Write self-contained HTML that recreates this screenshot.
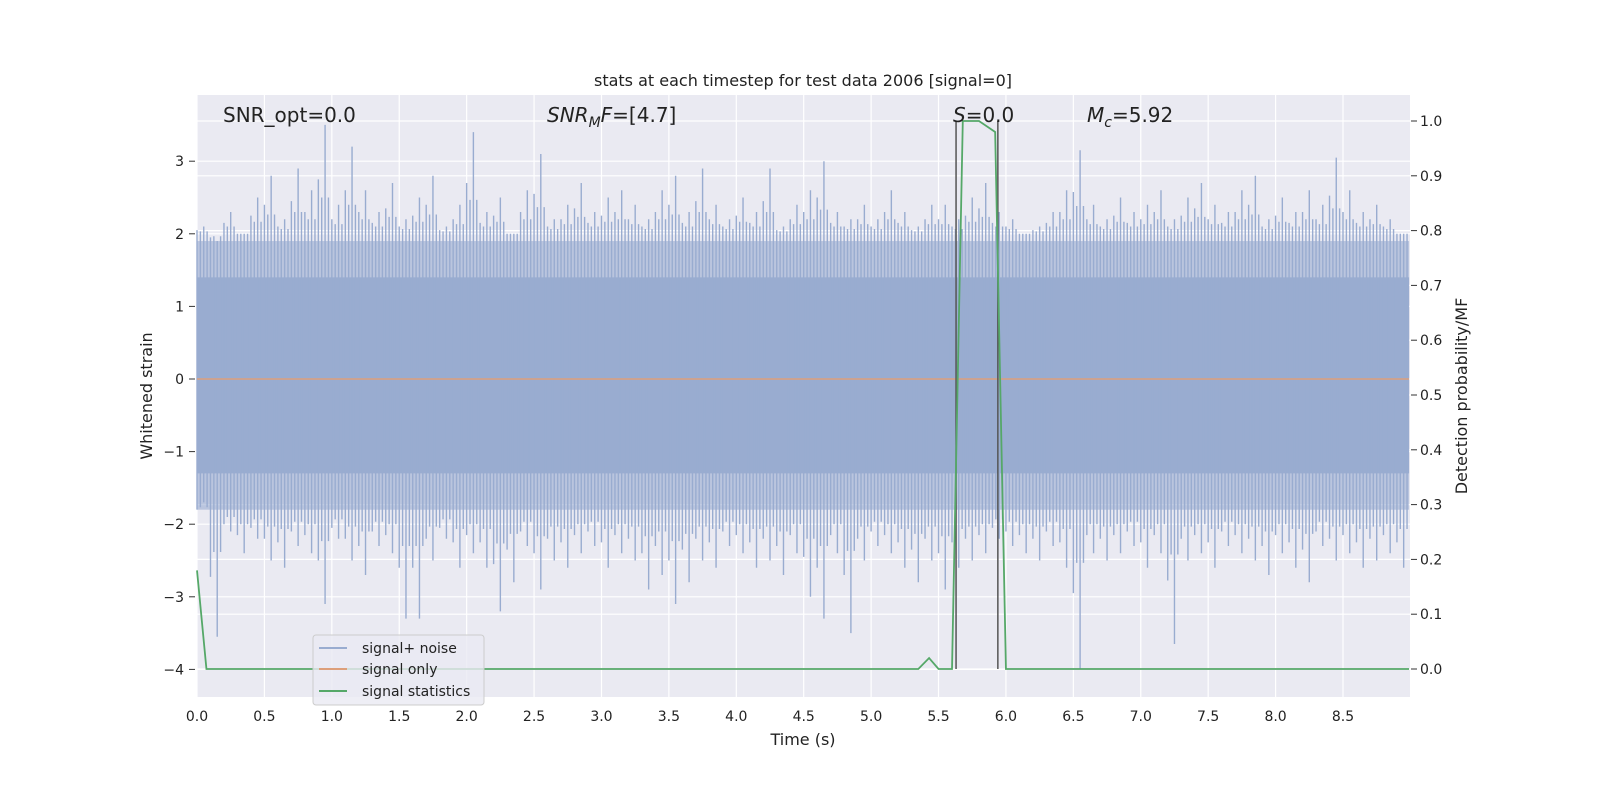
<!DOCTYPE html>
<html><head><meta charset="utf-8"><style>
html,body{margin:0;padding:0;overflow:hidden;background:#fff;font-family:"DejaVu Sans","Liberation Sans",sans-serif;}
svg{display:block;}
</style></head><body>
<svg id="chart" width="1600" height="800" xmlns="http://www.w3.org/2000/svg" font-family="DejaVu Sans, Liberation Sans, sans-serif">
<rect width="1600" height="800" fill="#fff"/>
<rect x="197" y="95" width="1213" height="602" fill="#eaeaf2"/>
<g id="grid"></g>
<g id="marks"></g>
<g id="axes"></g>
<text x="803" y="86" text-anchor="middle" font-size="16" fill="#222">stats at each timestep for test data 2006 [signal=0]</text>
<text x="803" y="745" text-anchor="middle" font-size="16" fill="#222">Time (s)</text>
<text transform="translate(152,396) rotate(-90)" text-anchor="middle" font-size="16" fill="#222">Whitened strain</text>
<text transform="translate(1467,396) rotate(-90)" text-anchor="middle" font-size="16" fill="#222">Detection probability/MF</text>
<text x="223" y="122" font-size="20" fill="#222">SNR_opt=0.0</text>
<text x="547" y="122" font-size="20" fill="#222"><tspan font-style="italic">SNR</tspan><tspan font-style="italic" font-size="14" dy="5">M</tspan><tspan font-style="italic" dy="-5">F</tspan>=[4.7]</text>
<text x="953" y="122" font-size="20" fill="#222"><tspan font-style="italic">S</tspan>=0.0</text>
<text x="1087" y="122" font-size="20" fill="#222"><tspan font-style="italic">M</tspan><tspan font-style="italic" font-size="14" dy="5">c</tspan><tspan dy="-5">=5.92</tspan></text>
<g>
<rect x="313" y="635" width="171" height="70" rx="3" fill="#eaeaf2" fill-opacity="0.8" stroke="#ccc"/>
<line x1="319" y1="648" x2="347" y2="648" stroke="#99acd0" stroke-width="2"/>
<text x="362" y="653" font-size="14" fill="#222">signal+ noise</text>
<line x1="319" y1="669" x2="347" y2="669" stroke="#dd9f7a" stroke-width="2"/>
<text x="362" y="674" font-size="14" fill="#222">signal only</text>
<line x1="319" y1="691" x2="347" y2="691" stroke="#55a868" stroke-width="2"/>
<text x="362" y="696" font-size="14" fill="#222">signal statistics</text>
</g>
</svg>
<script>
const highs=[2.1,1.9,2.3,2.0,2.5,2.8,2.2,2.9,2.6,3.5,2.4,3.2,2.6,2.3,2.7,2.2,2.5,2.8,2.1,2.4,3.4,2.3,2.5,2.0,2.6,3.1,2.2,2.4,2.7,2.3,2.5,2.6,2.4,2.2,2.6,2.8,2.3,2.9,2.4,2.2,2.5,2.3,2.9,2.1,2.4,2.6,3.0,2.3,2.2,2.4,2.2,2.6,2.3,2.1,2.4,2.4,2.2,2.5,2.7,2.3,2.2,2.0,2.1,2.3,2.6,3.15,2.4,2.2,2.5,2.3,2.4,2.6,2.2,2.5,2.7,2.4,2.3,2.6,2.8,2.2,2.5,2.3,2.6,2.4,3.05,2.6,2.3,2.4,2.2,2.0];
const lows=[-1.7,-3.55,-2.1,-2.4,-2.2,-2.5,-2.6,-2.3,-2.4,-3.1,-2.2,-2.5,-2.7,-2.3,-2.4,-3.3,-3.3,-2.5,-2.2,-2.6,-2.4,-2.6,-3.2,-2.8,-2.3,-2.9,-2.5,-2.6,-2.4,-2.3,-2.6,-2.4,-2.5,-2.9,-2.7,-3.1,-2.8,-2.5,-2.6,-2.3,-2.4,-2.6,-2.5,-2.7,-2.4,-3.0,-3.3,-2.4,-3.5,-2.5,-2.3,-2.4,-2.6,-2.8,-2.5,-2.9,-2.6,-2.5,-2.4,-2.2,-2.3,-2.4,-2.5,-2.3,-2.6,-4.0,-2.4,-2.5,-2.4,-2.3,-2.6,-2.4,-3.65,-2.5,-2.4,-2.6,-2.3,-2.4,-2.5,-2.7,-2.4,-2.6,-2.8,-2.3,-2.5,-2.4,-2.6,-2.5,-2.4,-2.6];
const statT=[0,0.07,0.15,5.35,5.43,5.5,5.6,5.68,5.8,5.92,6.0,8.99];
const statV=[0.18,0.0,0.0,0.0,0.02,0.0,0.0,1.0,1.0,0.98,0.0,0.0];
const markerT=[5.63,5.94];
const xTicks=[0,0.5,1,1.5,2,2.5,3,3.5,4,4.5,5,5.5,6,6.5,7,7.5,8,8.5];
const yTicks=[-4,-3,-2,-1,0,1,2,3];
const y2Ticks=[0,0.1,0.2,0.3,0.4,0.5,0.6,0.7,0.8,0.9,1.0];
const NS="http://www.w3.org/2000/svg";
const X=t=>197+t*(1146/8.5), Y=v=>379-v*72.6, Y2=p=>669-p*548;
function mk(tag,attrs,parent){const e=document.createElementNS(NS,tag);for(const k in attrs)e.setAttribute(k,attrs[k]);document.getElementById(parent).appendChild(e);return e;}
for(const t of xTicks){const l=mk('line',{x1:X(t),x2:X(t),y1:95,y2:697,stroke:'#fff','stroke-width':1.2},'grid');
const tx=mk('text',{x:X(t),y:721,'text-anchor':'middle','font-size':14,fill:'#222'},'axes');tx.textContent=t.toFixed(1);}
for(const v of yTicks){const l=mk('line',{x1:197,x2:1410,y1:Y(v),y2:Y(v),stroke:'#fff','stroke-width':1.2},'grid');
const tx=mk('text',{x:184,y:Y(v)+5,'text-anchor':'end','font-size':14,fill:'#222'},'axes');tx.textContent=v<0?'\u2212'+(-v):v;
const tk=mk('line',{x1:189,x2:195,y1:Y(v),y2:Y(v),stroke:'#333'},'axes');}
for(const p of y2Ticks){const l=mk('line',{x1:197,x2:1410,y1:Y2(p),y2:Y2(p),stroke:'#fff','stroke-width':1.2},'grid');
const tx=mk('text',{x:1420,y:Y2(p)+5,'font-size':14,fill:'#222'},'axes');tx.textContent=p.toFixed(1);
const tk=mk('line',{x1:1411,x2:1417,y1:Y2(p),y2:Y2(p),stroke:'#333'},'axes');}
const dense=mk('rect',{x:X(0),y:Y(1.9),width:X(8.99)-X(0),height:Y(-1.8)-Y(1.9),fill:'#99acd0','fill-opacity':0.6},'marks');

const core=mk('rect',{x:X(0),y:Y(1.4),width:X(8.99)-X(0),height:Y(-1.3)-Y(1.4),fill:'#99acd0'},'marks');

highs.forEach((h,i)=>{const t=i*0.1+0.05;
const l=mk('line',{x1:X(t),x2:X(t),y1:Y(h),y2:Y(lows[i]),stroke:'#99acd0','stroke-width':1.4},'marks');

const l2=mk('line',{x1:X(t-0.05),x2:X(t-0.05),y1:Y((h+2)/2),y2:Y((lows[i]-1.9)/2),stroke:'#99acd0','stroke-width':1.4},'marks');

const l3=mk('line',{x1:X(t-0.025),x2:X(t-0.025),y1:Y((h+4)/3),y2:Y((lows[i]-3.6)/3),stroke:'#99acd0','stroke-width':1.4},'marks');

const l4=mk('line',{x1:X(t+0.025),x2:X(t+0.025),y1:Y((h+4)/3),y2:Y((lows[i]-3.6)/3),stroke:'#99acd0','stroke-width':1.4},'marks');
});
const sig=mk('line',{x1:X(0),x2:X(8.99),y1:Y(0),y2:Y(0),stroke:'#dd9f7a','stroke-width':1.5},'marks');

for(const t of markerT){const m=mk('line',{x1:X(t),x2:X(t),y1:Y2(0),y2:Y2(1),stroke:'#555','stroke-width':1.5},'marks');}
const st=mk('polyline',{points:statT.map((t,i)=>X(t)+','+Y2(statV[i])).join(' '),fill:'none',stroke:'#55a868','stroke-width':1.8},'marks');

</script>
</body></html>
